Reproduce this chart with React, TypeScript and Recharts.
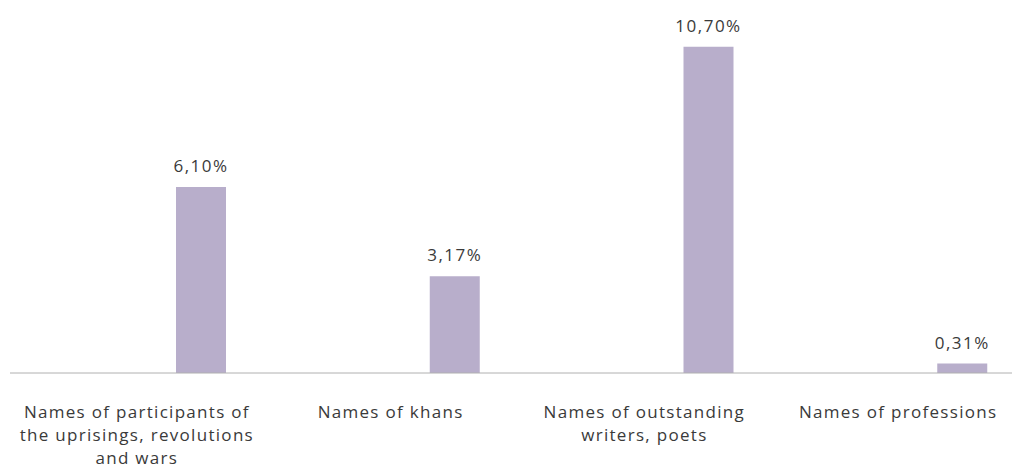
import { BarChart, Bar, XAxis, YAxis, LabelList } from "recharts";

const CATEGORIES = [
  "Names of participants of the uprisings, revolutions and wars",
  "Names of khans",
  "Names of outstanding writers, poets",
  "Names of professions",
];
const TICK_LINES = [
  ["Names of participants of", "the uprisings, revolutions", "and wars"],
  ["Names of khans"],
  ["Names of outstanding", "writers, poets"],
  ["Names of professions"],
];
const BLANK = [0, 0, 0, 0];
const SHARE = [6.1, 3.17, 10.7, 0.31];

const FONT = "'Open Sans', 'DejaVu Sans', sans-serif";
const TEXT = "#3a3a3a";

const data = CATEGORIES.map((name, i) => ({
  name,
  blank: BLANK[i],
  share: SHARE[i],
}));

function fmtPct(v: number): string {
  return v.toFixed(2).replace(".", ",") + "%";
}

function Tick({ x, y, index }: any) {
  const lines = TICK_LINES[index] ?? [];
  return (
    <text
      x={x}
      y={y}
      textAnchor="middle"
      fill={TEXT}
      fontSize={17}
      fontFamily={FONT}
      letterSpacing={1.3}
    >
      {lines.map((l, i) => (
        <tspan key={i} x={x} y={Number(y) + 37 + i * 23}>
          {l}
        </tspan>
      ))}
    </text>
  );
}

function ValueLabel({ x, y, width, value }: any) {
  return (
    <text
      x={Number(x) + Number(width) / 2}
      y={Number(y) - 15}
      textAnchor="middle"
      fill={TEXT}
      fontSize={17}
      fontFamily={FONT}
      letterSpacing={1.5}
    >
      {fmtPct(Number(value))}
    </text>
  );
}

export default function App() {
  return (
    <div
      style={{
        position: "absolute",
        left: 0,
        top: 0,
        width: 1012,
        height: 468,
        overflow: "hidden",
        background: "#fff",
      }}
    >
      <BarChart
        width={1030}
        height={468}
        data={data}
        margin={{ top: 7, right: 5, left: 10, bottom: 0 }}
        barSize={50}
        barGap={78}
      >
        <XAxis
          dataKey="name"
          height={95}
          interval={0}
          tickLine={false}
          axisLine={{ stroke: "#b0b0b0", strokeWidth: 1 }}
          tick={<Tick />}
        />
        <YAxis hide domain={[0, 12]} />
        <Bar dataKey="blank" fill="#ffffff" isAnimationActive={false} />
        <Bar dataKey="share" fill="#b8aecb" isAnimationActive={false}>
          <LabelList dataKey="share" content={<ValueLabel />} />
        </Bar>
      </BarChart>
    </div>
  );
}
